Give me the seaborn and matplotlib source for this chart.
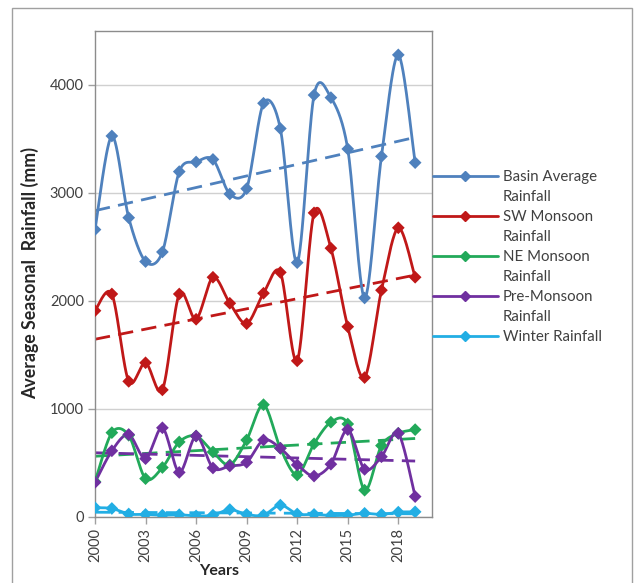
import numpy as np
import pandas as pd
import matplotlib
matplotlib.use("Agg")
import matplotlib.pyplot as plt
from matplotlib.lines import Line2D
from matplotlib.patches import Rectangle
import seaborn as sns

years = list(range(2000, 2020))
basin = [2661, 3528, 2771, 2365, 2454, 3198, 3287, 3311, 2991, 3040,
         3831, 3597, 2355, 3907, 3883, 3408, 2028, 3339, 4279, 3281]
sw_monsoon = [1910, 2065, 1256, 1428, 1177, 2065, 1831, 2220, 1979, 1790,
              2072, 2265, 1446, 2816, 2489, 1762, 1291, 2100, 2678, 2220]
ne_monsoon = [327, 781, 757, 355, 458, 695, 750, 602, 482, 713,
              1040, 637, 389, 678, 878, 861, 248, 661, 775, 809]
pre_monsoon = [320, 613, 764, 540, 826, 413, 750, 454, 472, 506,
               713, 637, 482, 379, 489, 809, 441, 558, 775, 189]
winter = [86, 79, 28, 24, 17, 21, 10, 17, 69, 24,
          17, 110, 28, 24, 14, 17, 34, 24, 45, 48]

series_names = ["Basin Average Rainfall", "SW Monsoon Rainfall",
                "NE Monsoon Rainfall", "Pre-Monsoon Rainfall", "Winter Rainfall"]
legend_lines = [["Basin Average", "Rainfall"], ["SW Monsoon", "Rainfall"],
                ["NE Monsoon", "Rainfall"], ["Pre-Monsoon", "Rainfall"],
                ["Winter Rainfall"]]
series_values = [basin, sw_monsoon, ne_monsoon, pre_monsoon, winter]
colors = ["#4F81BD", "#C01818", "#22A95A", "#7030A0", "#22AEE4"]
yticks = [0, 1000, 2000, 3000, 4000]
xticks = list(range(2000, 2019, 3))


def smooth_curve(x, y, n=30, k=1 / 6.5):
    x = np.asarray(x, float)
    y = np.asarray(y, float)
    px = np.concatenate([[x[0]], x, [x[-1]]])
    py = np.concatenate([[y[0]], y, [y[-1]]])
    xs, ys = [], []
    t = np.linspace(0, 1, n, endpoint=False)
    for i in range(1, len(px) - 2):
        p0x, p1x, p2x, p3x = px[i - 1:i + 3]
        p0y, p1y, p2y, p3y = py[i - 1:i + 3]
        c1x = p1x + (p2x - p0x) * k
        c1y = p1y + (p2y - p0y) * k
        c2x = p2x - (p3x - p1x) * k
        c2y = p2y - (p3y - p1y) * k
        bx = (1 - t) ** 3 * p1x + 3 * (1 - t) ** 2 * t * c1x + 3 * (1 - t) * t ** 2 * c2x + t ** 3 * p2x
        by = (1 - t) ** 3 * p1y + 3 * (1 - t) ** 2 * t * c1y + 3 * (1 - t) * t ** 2 * c2y + t ** 3 * p2y
        xs.append(bx)
        ys.append(by)
    xs.append([x[-1]])
    ys.append([y[-1]])
    return np.concatenate(xs), np.concatenate(ys)


sns.set_theme(style="white")
plt.rcParams["font.family"] = ["Lato", "DejaVu Sans"]

fig = plt.figure(figsize=(6.36, 5.83), dpi=100)
W, H = 636, 583
ax = fig.add_axes([95 / W, 1 - 517 / H, (432 - 95) / W, (517 - 31) / H])

# outer chart frame
fig.patches.append(Rectangle((12 / W, -0.01), (632 - 12) / W, 1 - 8 / H + 0.01,
                             transform=fig.transFigure, fill=False,
                             edgecolor="#A0A0A0", lw=1.0, zorder=0))

smooth_rows = []
point_rows = []
for name, vals in zip(series_names, series_values):
    sx, sy = smooth_curve(years, vals)
    smooth_rows.append(pd.DataFrame({"x": sx, "y": sy, "series": name}))
    point_rows.append(pd.DataFrame({"x": years, "y": vals, "series": name}))
smooth_df = pd.concat(smooth_rows, ignore_index=True)
point_df = pd.concat(point_rows, ignore_index=True)
pal = dict(zip(series_names, colors))

# linear trend lines
for name, vals, c in zip(series_names, series_values, colors):
    k, b = np.polyfit(years, vals, 1)
    tx = np.array([years[0], years[-1]], float)
    ax.plot(tx, k * tx + b, color=c, lw=2.0, dashes=(5.5, 3), zorder=2)

sns.lineplot(data=smooth_df, x="x", y="y", hue="series", palette=pal,
             sort=False, estimator=None, lw=2.0, legend=False, ax=ax, zorder=3)
sns.scatterplot(data=point_df, x="x", y="y", hue="series", palette=pal,
                marker="D", s=42, linewidth=0, legend=False, ax=ax, zorder=4)

ax.set_xlim(2000, 2020)
ax.set_ylim(0, 4500)
ax.set_yticks(yticks)
ax.set_yticklabels([str(v) for v in yticks], fontsize=10.5, color="#404040")
ax.set_xticks(xticks)
ax.set_xticklabels([str(v) for v in xticks], fontsize=10.5, rotation=90, color="#404040")
ax.tick_params(axis="both", direction="out", length=5, width=1, color="#A0A0A0",
               left=True, bottom=True, pad=3)
ax.grid(axis="y", color="#D0D0D0", lw=1)
ax.grid(axis="x", visible=False)
for sp in ax.spines.values():
    sp.set_color("#8C8C8C")
    sp.set_linewidth(1.0)
ax.set_xlabel("")
ax.set_ylabel("")

fig.text(30 / W, 1 - 273 / H, "Average Seasonal  Rainfall (mm)", rotation=90,
         ha="center", va="center", fontsize=12.8, fontweight="bold", color="#262626")
fig.text(219 / W, 1 - 571 / H, "Years", ha="center", va="center",
         fontsize=11.5, fontweight="bold", color="#262626")

handles, labels = [], []
for lines, c in zip(legend_lines, colors):
    handles.append(Line2D([], [], color=c, lw=2.0, marker="D", markersize=5))
    labels.append(lines[0])
    for extra in lines[1:]:
        handles.append(Line2D([], [], color="none"))
        labels.append(extra)
leg = fig.legend(handles, labels, loc="upper left",
                 bbox_to_anchor=(433 / W, 1 - 170 / H), frameon=False,
                 fontsize=10.8, handlelength=4.3, handletextpad=0.35,
                 labelspacing=0.4, borderpad=0, borderaxespad=0)
for t in leg.get_texts():
    t.set_color("#404040")

fig.savefig("out.png", dpi=100)
